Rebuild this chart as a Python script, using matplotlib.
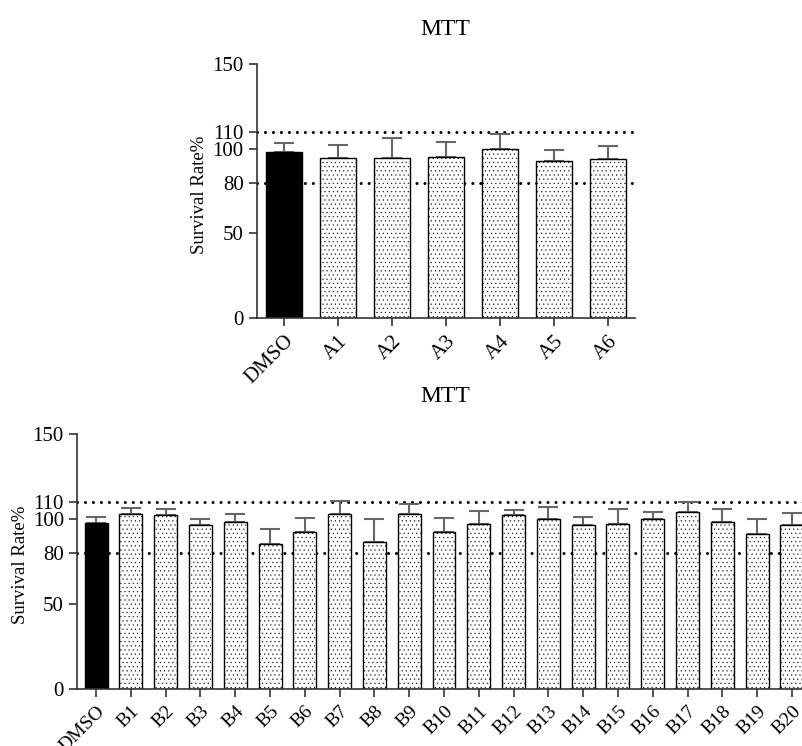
import matplotlib.pyplot as plt
import numpy as np

plt.rcParams['font.family'] = ['Liberation Serif', 'DejaVu Serif']
plt.rcParams['hatch.linewidth'] = 0.3

# data
yticks = [0, 50, 80, 100, 110, 150]

labels_a = ["DMSO", "A1", "A2", "A3", "A4", "A5", "A6"]
mean_a = [98.2, 94.3, 94.3, 95.3, 100.0, 92.9, 93.7]
err_a = [5.2, 7.7, 11.8, 8.4, 8.7, 6.1, 7.9]

labels_b = ["DMSO"] + [f"B{i}" for i in range(1, 21)]
mean_b = [97.6, 102.7, 102.4, 96.7, 98.0, 85.1, 92.5, 103.1, 86.5, 103.1,
          92.5, 96.9, 102.5, 100.0, 96.7, 97.1, 99.8, 104.3, 98.0, 91.4, 96.3]
err_b = [3.8, 3.5, 3.7, 3.5, 4.7, 8.8, 8.3, 7.7, 13.3, 5.7,
         8.3, 8.0, 2.8, 7.1, 4.7, 8.6, 4.5, 5.5, 7.9, 8.4, 7.2]


def draw_panel(ax, labels, means, errs, xlim, xsize):
    x = np.arange(len(labels))
    colors = ['black'] + ['white'] * (len(labels) - 1)
    hatches = [''] + ['....'] * (len(labels) - 1)
    for level in (110, 80):
        ax.axhline(level, color='black', lw=2.2, dashes=(0.01, 2.6),
                   dash_capstyle='round', zorder=1)
    bars = ax.bar(x, means, width=0.66, color=colors, edgecolor='black',
                  linewidth=1.0, zorder=2)
    for b, h in zip(bars, hatches):
        b.set_hatch(h)
    ax.errorbar(x, means, yerr=[np.zeros(len(errs)), errs], fmt='none',
                ecolor='#666666', elinewidth=1.5, capsize=7, capthick=1.5,
                zorder=1.5)
    ax.set_xlim(*xlim)
    ax.set_ylim(0, 150)
    ax.set_yticks(yticks)
    ax.set_xticks(x)
    ax.set_xticklabels(labels, rotation=45, ha='right', rotation_mode='anchor')
    ax.tick_params(axis='y', labelsize=15)
    ax.tick_params(axis='x', labelsize=xsize, pad=4)
    ax.tick_params(axis='both', length=6, width=1.2, color='#333333',
                   direction='out')
    ax.spines['top'].set_visible(False)
    ax.spines['right'].set_visible(False)
    for s in ('left', 'bottom'):
        ax.spines[s].set_linewidth(1.2)
        ax.spines[s].set_color('#333333')


fig = plt.figure(figsize=(8.03, 7.46), dpi=100)

ax1 = fig.add_axes([0.320, 0.5737, 0.471, 0.3405])
draw_panel(ax1, labels_a, mean_a, err_a, (-0.5, 6.5), 15)

ax2 = fig.add_axes([0.0959, 0.0764, 0.9041, 0.3418])
draw_panel(ax2, labels_b, mean_b, err_b, (-0.55, 20.32), 14)

fig.text(0.554, 0.960, "MTT", ha='center', va='center', fontsize=17)
fig.text(0.554, 0.468, "MTT", ha='center', va='center', fontsize=17)
fig.text(0.249, 0.739, "Survival Rate%", rotation=90, ha='center',
         va='center', fontsize=13.5)
fig.text(0.025, 0.243, "Survival Rate%", rotation=90, ha='center',
         va='center', fontsize=13.5)

fig.savefig("out.png", dpi=100)
